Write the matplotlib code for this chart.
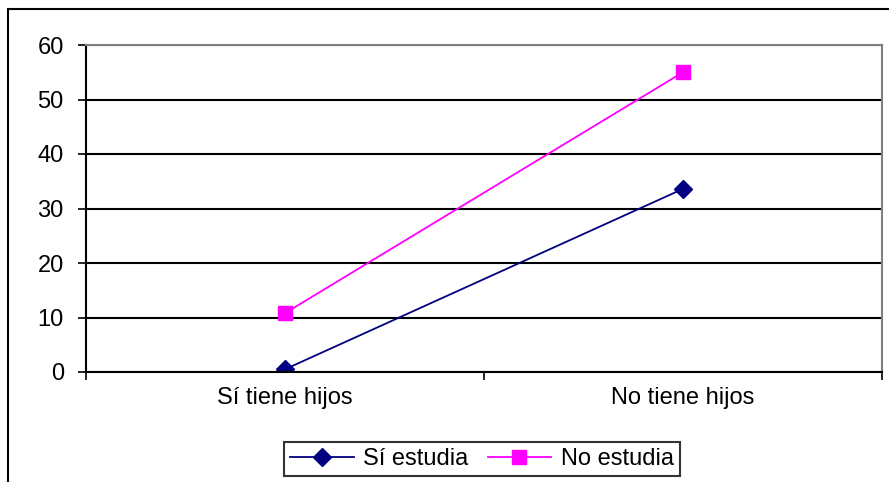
import matplotlib
matplotlib.use("Agg")
import matplotlib.pyplot as plt
from matplotlib.patches import Rectangle

categories = ["Sí tiene hijos", "No tiene hijos"]
si_estudia = [0.5, 33.6]
no_estudia = [10.8, 55.0]
yticks = [0, 10, 20, 30, 40, 50, 60]

plt.rcParams['font.family'] = ['Liberation Sans', 'DejaVu Sans']
FS = 17

W, H = 889, 482
fig = plt.figure(figsize=(W/100, H/100), dpi=100)
fig.patch.set_facecolor('white')

# outer chart frame (extends past right/bottom edge)
fig.patches.append(Rectangle((8/W, -0.05), 1.2, 1 - 9/H + 0.05, transform=fig.transFigure,
                             fill=False, edgecolor='black', linewidth=1.5))

left, right, top, bottom = 86, 882, 45, 372
ax = fig.add_axes([left/W, 1 - bottom/H, (right-left)/W, (bottom-top)/H])

x = [0.5, 1.5]
ax.plot(x, si_estudia, color='#000080', marker='D', markersize=9, linewidth=1.3, label='Sí estudia')
ax.plot(x, no_estudia, color='#FF00FF', marker='s', markersize=10, linewidth=1.3, label='No estudia')

ax.set_xlim(0, 2)
ax.set_ylim(0, 60)
ax.set_yticks(yticks)
ax.set_yticklabels([str(v) for v in yticks], fontsize=FS)
ax.set_xticks([0, 1, 2])
ax.set_xticklabels([])
ax.set_xticks(x, minor=True)
ax.set_xticklabels(categories, minor=True, fontsize=FS)
ax.tick_params(axis='x', which='minor', length=0, pad=11)
ax.tick_params(axis='x', which='major', length=6, direction='out', width=1.2)
ax.tick_params(axis='y', length=6, direction='out', width=1.2, pad=10)

ax.yaxis.grid(True, color='black', linewidth=1.5)
ax.set_axisbelow(True)
for s in ['top', 'right']:
    ax.spines[s].set_color('#808080')
    ax.spines[s].set_linewidth(1.5)
ax.spines['left'].set_linewidth(1.5)
ax.spines['bottom'].set_linewidth(1.5)

leg = fig.legend(loc='center', bbox_to_anchor=(482/W, 1 - 459/H), ncol=2, fontsize=FS,
                 frameon=True, fancybox=False, edgecolor='black', handlelength=2.7,
                 columnspacing=0.8, handletextpad=0.4, borderpad=0.25)
leg.get_frame().set_linewidth(1.5)

fig.savefig('out.png', dpi=100)
